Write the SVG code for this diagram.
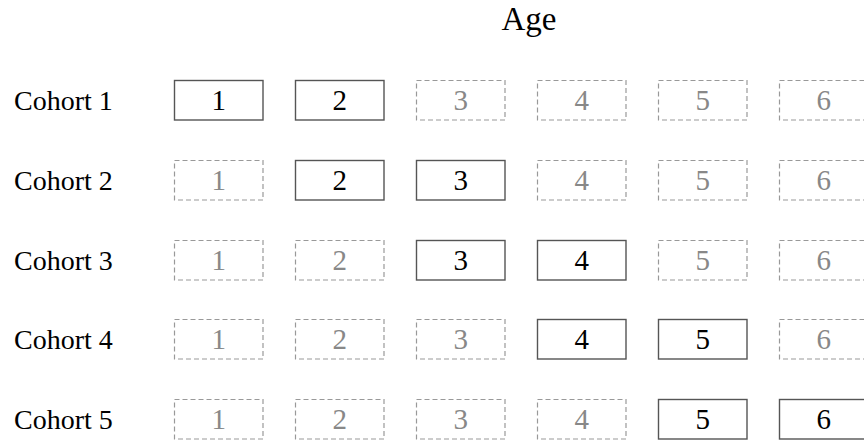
<svg xmlns="http://www.w3.org/2000/svg" width="864" height="442" viewBox="0 0 864 442">
<style>
text{font-family:"Liberation Serif","Times New Roman",serif;}
.lbl{font-size:28px;fill:#000;}
.title{font-size:33px;fill:#000;text-anchor:middle;}
.on rect{fill:#fff;stroke:#555;stroke-width:1.4;}
.on text{font-size:29px;fill:#000;text-anchor:middle;}
.off rect{fill:#fff;stroke:#999;stroke-width:1.2;stroke-dasharray:5 3;}
.off text{font-size:29px;fill:#888;text-anchor:middle;}
</style>
<rect width="864" height="442" fill="#fff"/>
<text class="title" x="529" y="30">Age</text>
<g id="labels">
<text class="lbl" x="14" y="110">Cohort 1</text>
<text class="lbl" x="14" y="190">Cohort 2</text>
<text class="lbl" x="14" y="270">Cohort 3</text>
<text class="lbl" x="14" y="349">Cohort 4</text>
<text class="lbl" x="14" y="429">Cohort 5</text>
</g>
<g id="row1">
<g id="c1a1" class="on"><rect x="174.5" y="80.5" width="88.5" height="39.5"/><text x="218.7" y="110">1</text></g>
<g id="c1a2" class="on"><rect x="295.5" y="80.5" width="88.5" height="39.5"/><text x="339.7" y="110">2</text></g>
<g id="c1a3" class="off"><rect x="416.5" y="80.5" width="88.5" height="39.5"/><text x="460.7" y="110">3</text></g>
<g id="c1a4" class="off"><rect x="537.5" y="80.5" width="88.5" height="39.5"/><text x="581.7" y="110">4</text></g>
<g id="c1a5" class="off"><rect x="658.5" y="80.5" width="88.5" height="39.5"/><text x="702.7" y="110">5</text></g>
<g id="c1a6" class="off"><rect x="779.5" y="80.5" width="88.5" height="39.5"/><text x="823.7" y="110">6</text></g>
</g>
<g id="row2">
<g id="c2a1" class="off"><rect x="174.5" y="160.5" width="88.5" height="39.5"/><text x="218.7" y="190">1</text></g>
<g id="c2a2" class="on"><rect x="295.5" y="160.5" width="88.5" height="39.5"/><text x="339.7" y="190">2</text></g>
<g id="c2a3" class="on"><rect x="416.5" y="160.5" width="88.5" height="39.5"/><text x="460.7" y="190">3</text></g>
<g id="c2a4" class="off"><rect x="537.5" y="160.5" width="88.5" height="39.5"/><text x="581.7" y="190">4</text></g>
<g id="c2a5" class="off"><rect x="658.5" y="160.5" width="88.5" height="39.5"/><text x="702.7" y="190">5</text></g>
<g id="c2a6" class="off"><rect x="779.5" y="160.5" width="88.5" height="39.5"/><text x="823.7" y="190">6</text></g>
</g>
<g id="row3">
<g id="c3a1" class="off"><rect x="174.5" y="240.5" width="88.5" height="39.5"/><text x="218.7" y="270">1</text></g>
<g id="c3a2" class="off"><rect x="295.5" y="240.5" width="88.5" height="39.5"/><text x="339.7" y="270">2</text></g>
<g id="c3a3" class="on"><rect x="416.5" y="240.5" width="88.5" height="39.5"/><text x="460.7" y="270">3</text></g>
<g id="c3a4" class="on"><rect x="537.5" y="240.5" width="88.5" height="39.5"/><text x="581.7" y="270">4</text></g>
<g id="c3a5" class="off"><rect x="658.5" y="240.5" width="88.5" height="39.5"/><text x="702.7" y="270">5</text></g>
<g id="c3a6" class="off"><rect x="779.5" y="240.5" width="88.5" height="39.5"/><text x="823.7" y="270">6</text></g>
</g>
<g id="row4">
<g id="c4a1" class="off"><rect x="174.5" y="319.5" width="88.5" height="39.5"/><text x="218.7" y="349">1</text></g>
<g id="c4a2" class="off"><rect x="295.5" y="319.5" width="88.5" height="39.5"/><text x="339.7" y="349">2</text></g>
<g id="c4a3" class="off"><rect x="416.5" y="319.5" width="88.5" height="39.5"/><text x="460.7" y="349">3</text></g>
<g id="c4a4" class="on"><rect x="537.5" y="319.5" width="88.5" height="39.5"/><text x="581.7" y="349">4</text></g>
<g id="c4a5" class="on"><rect x="658.5" y="319.5" width="88.5" height="39.5"/><text x="702.7" y="349">5</text></g>
<g id="c4a6" class="off"><rect x="779.5" y="319.5" width="88.5" height="39.5"/><text x="823.7" y="349">6</text></g>
</g>
<g id="row5">
<g id="c5a1" class="off"><rect x="174.5" y="399.5" width="88.5" height="39.5"/><text x="218.7" y="429">1</text></g>
<g id="c5a2" class="off"><rect x="295.5" y="399.5" width="88.5" height="39.5"/><text x="339.7" y="429">2</text></g>
<g id="c5a3" class="off"><rect x="416.5" y="399.5" width="88.5" height="39.5"/><text x="460.7" y="429">3</text></g>
<g id="c5a4" class="off"><rect x="537.5" y="399.5" width="88.5" height="39.5"/><text x="581.7" y="429">4</text></g>
<g id="c5a5" class="on"><rect x="658.5" y="399.5" width="88.5" height="39.5"/><text x="702.7" y="429">5</text></g>
<g id="c5a6" class="on"><rect x="779.5" y="399.5" width="88.5" height="39.5"/><text x="823.7" y="429">6</text></g>
</g>
<g id="connectors"/>
</svg>
